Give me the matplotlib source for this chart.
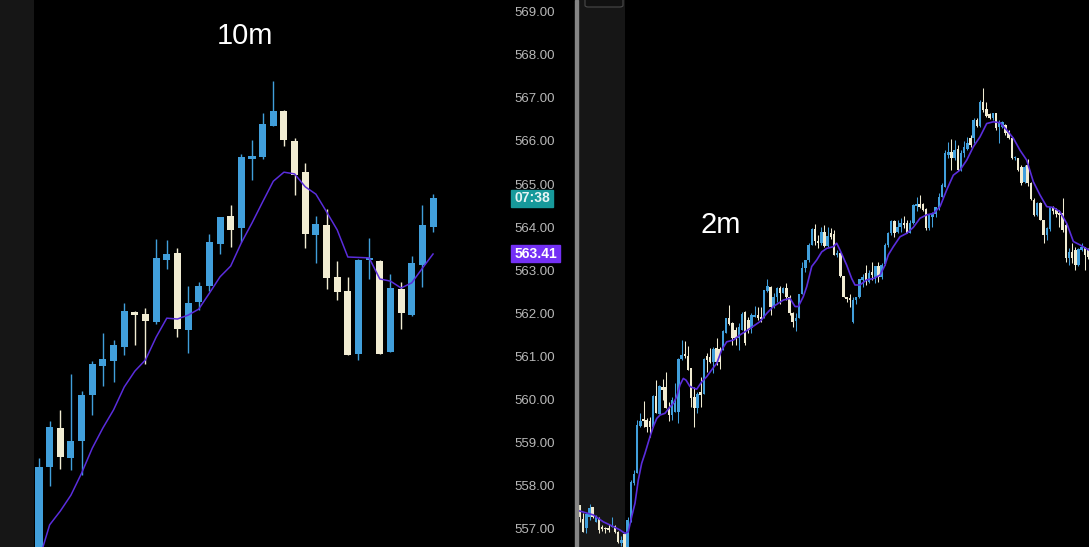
import matplotlib
matplotlib.use("Agg")
import matplotlib.pyplot as plt
from matplotlib.patches import Rectangle, FancyBboxPatch
from matplotlib.transforms import blended_transform_factory

plt.rcParams['font.family'] = ['Liberation Sans', 'DejaVu Sans']

# --- 10m panel (left) : open / high / low / close ---
o10 = [556.45, 558.46, 559.37, 558.67, 559.07, 560.14, 560.81, 560.92, 561.25, 562.06,
       562.02, 561.83, 563.27, 563.43, 561.64, 562.30, 562.67, 563.64, 564.29, 564.01,
       565.62, 565.66, 566.38, 566.73, 566.03, 565.31, 563.85, 564.08, 562.88, 562.55,
       561.09, 563.27, 563.25, 561.13, 562.59, 561.99, 563.15, 564.04]
h10 = [558.67, 559.53, 559.79, 560.62, 560.23, 560.92, 561.58, 561.41, 562.27, 562.09,
       562.16, 563.76, 563.73, 563.55, 562.67, 562.76, 563.87, 564.27, 564.55, 565.73,
       566.06, 566.68, 567.43, 566.75, 566.10, 565.52, 564.29, 564.45, 563.25, 562.88,
       563.29, 563.78, 563.27, 562.95, 562.76, 563.36, 564.55, 564.80]
l10 = [556.30, 558.02, 558.42, 558.39, 558.28, 559.67, 560.34, 560.44, 561.06, 561.30,
       560.86, 561.78, 563.06, 561.48, 561.11, 562.11, 562.55, 563.41, 563.57, 563.69,
       565.13, 565.62, 566.38, 565.92, 564.78, 563.55, 563.20, 562.60, 562.34, 561.06,
       560.95, 562.83, 561.09, 561.13, 561.67, 561.97, 562.64, 563.92]
c10 = [558.46, 559.39, 558.70, 559.07, 560.14, 560.86, 560.97, 561.30, 562.09, 561.99,
       561.85, 563.32, 563.41, 561.67, 562.27, 562.67, 563.69, 564.27, 563.97, 565.66,
       565.69, 566.43, 566.73, 566.05, 565.24, 563.87, 564.11, 562.85, 562.53, 561.06,
       563.27, 563.31, 561.09, 562.62, 562.04, 563.20, 564.08, 564.71]
ma10 = [556.30, 557.12, 557.44, 557.81, 558.32, 558.90, 559.37, 559.79, 560.32, 560.69,
        560.95, 561.48, 561.92, 561.90, 561.99, 562.13, 562.50, 562.88, 563.13, 563.67,
        564.13, 564.62, 565.10, 565.31, 565.27, 564.97, 564.80, 564.39, 563.97, 563.34,
        563.33, 563.32, 562.83, 562.78, 562.62, 562.74, 563.08, 563.41]

# --- 2m panel (right) ---
o2 = [557.58, 557.25, 557.04, 557.31, 557.53, 557.19, 557.27, 557.06, 557.04, 557.04,
      557.08, 557.09, 556.96, 556.69, 556.90, 556.57, 557.19, 558.08, 558.32, 559.42,
      559.57, 559.55, 559.52, 559.40, 560.11, 559.69, 560.33, 560.33, 559.83, 559.67,
      559.75, 559.75, 560.96, 561.08, 561.04, 560.77, 560.08, 559.83, 560.21, 560.17,
      561.03, 561.01, 560.89, 561.22, 561.20, 561.18, 561.58, 561.92, 561.81, 561.64,
      561.47, 561.64, 562.07, 561.88, 561.68, 561.95, 561.99, 561.95, 561.92, 562.56,
      562.64, 562.19, 562.42, 562.61, 562.50, 562.61, 562.42, 562.03, 561.86, 561.92,
      562.47, 563.08, 563.27, 563.62, 563.99, 563.72, 563.66, 563.91, 563.60, 563.89,
      563.87, 563.39, 563.43, 562.90, 562.40, 562.38, 561.84, 562.33, 562.40, 562.81,
      562.96, 562.77, 563.00, 562.88, 563.12, 562.87, 563.18, 563.62, 563.89, 564.18,
      563.93, 564.04, 564.14, 564.12, 563.90, 564.12, 564.52, 564.57, 564.57, 564.45,
      564.01, 564.28, 564.35, 564.47, 564.74, 564.97, 565.71, 565.79, 565.63, 565.86,
      565.36, 565.75, 565.86, 566.10, 566.10, 566.52, 566.38, 566.95, 566.77, 566.65,
      566.56, 566.68, 566.35, 566.37, 566.41, 566.25, 566.10, 565.63, 565.63, 565.42,
      565.09, 565.48, 565.05, 564.66, 564.32, 564.60, 564.21, 563.85, 563.99, 564.49,
      564.43, 564.37, 564.37, 564.08, 563.31, 563.46, 563.50, 563.15, 563.50, 563.58,
      563.50]
h2 = [557.58, 557.39, 557.39, 557.60, 557.54, 557.35, 557.31, 557.12, 557.08, 557.15,
      557.31, 557.12, 556.98, 556.85, 556.92, 557.31, 558.16, 558.39, 559.55, 559.71,
      560.00, 559.59, 559.63, 560.14, 560.48, 560.37, 560.50, 560.68, 559.98, 560.10,
      560.42, 560.99, 561.41, 561.39, 561.28, 560.77, 560.33, 560.21, 560.56, 560.99,
      561.10, 561.22, 561.26, 561.47, 561.26, 561.64, 561.92, 562.23, 561.84, 561.72,
      561.81, 562.07, 562.09, 561.95, 562.03, 562.20, 562.19, 562.17, 562.57, 562.83,
      562.67, 562.50, 562.64, 562.67, 562.64, 562.73, 562.46, 562.07, 562.03, 562.47,
      563.23, 563.27, 563.66, 564.01, 564.11, 563.85, 564.04, 564.08, 564.04, 564.01,
      563.97, 563.50, 563.46, 562.90, 562.42, 562.48, 562.42, 562.42, 562.84, 562.95,
      563.15, 563.04, 563.23, 563.12, 563.23, 563.19, 563.66, 563.93, 564.21, 564.21,
      564.20, 564.24, 564.29, 564.20, 564.20, 564.57, 564.74, 564.78, 564.59, 564.47,
      564.35, 564.39, 564.51, 564.82, 565.05, 565.82, 566.02, 566.07, 566.06, 565.94,
      565.82, 566.04, 566.13, 566.17, 566.56, 566.56, 566.99, 567.26, 566.95, 566.68,
      566.69, 566.68, 566.52, 566.51, 566.44, 566.29, 566.13, 565.69, 565.65, 565.48,
      565.48, 565.61, 565.09, 564.70, 564.62, 564.62, 564.21, 564.04, 564.51, 564.52,
      564.47, 564.43, 564.70, 564.12, 563.54, 563.66, 563.58, 563.54, 563.66, 563.58,
      563.55]
l2 = [557.19, 556.96, 556.94, 557.23, 557.29, 557.19, 556.92, 556.98, 556.92, 556.96,
      557.08, 556.92, 556.69, 556.62, 556.61, 556.55, 557.19, 558.05, 558.32, 559.40,
      559.40, 559.28, 559.17, 559.40, 559.71, 559.69, 560.02, 559.83, 559.54, 559.55,
      559.75, 559.49, 560.95, 560.99, 560.72, 559.86, 559.40, 559.71, 559.86, 560.16,
      560.68, 560.87, 560.64, 560.83, 560.75, 561.18, 561.57, 561.76, 561.30, 561.30,
      561.18, 561.64, 561.30, 561.57, 561.57, 561.95, 561.88, 561.84, 561.92, 562.53,
      561.99, 562.15, 562.30, 562.26, 562.50, 562.34, 561.99, 561.72, 561.63, 561.92,
      562.47, 563.00, 563.23, 563.62, 563.62, 563.54, 563.62, 563.58, 563.58, 563.75,
      563.39, 563.35, 562.88, 562.40, 562.30, 562.17, 561.81, 562.26, 562.38, 562.65,
      562.69, 562.74, 562.81, 562.73, 562.77, 562.84, 563.15, 563.58, 563.85, 563.81,
      563.89, 563.93, 564.01, 563.89, 563.89, 564.11, 564.40, 564.47, 564.42, 563.97,
      563.97, 564.04, 564.28, 564.43, 564.74, 564.97, 565.63, 565.36, 565.59, 565.34,
      565.34, 565.67, 565.82, 565.90, 565.98, 566.37, 566.37, 566.71, 566.60, 566.54,
      566.52, 566.29, 565.98, 566.33, 566.17, 566.07, 565.61, 565.59, 565.34, 565.01,
      565.05, 564.99, 564.66, 564.29, 564.29, 564.20, 563.66, 563.73, 563.95, 564.35,
      564.28, 564.04, 563.93, 563.23, 563.15, 563.19, 563.04, 563.12, 563.49, 563.04,
      563.30]
c2 = [557.31, 556.96, 557.36, 557.52, 557.31, 557.31, 557.00, 557.02, 557.02, 557.00,
      557.12, 556.96, 556.71, 556.77, 556.61, 557.23, 558.12, 558.30, 559.44, 559.53,
      559.52, 559.40, 559.40, 560.11, 559.71, 560.34, 560.25, 559.83, 559.67, 560.02,
      559.96, 560.97, 561.06, 561.03, 560.72, 560.06, 559.83, 560.17, 560.14, 560.97,
      560.95, 560.89, 561.20, 560.91, 560.91, 561.61, 561.92, 561.78, 561.47, 561.47,
      561.72, 562.02, 561.34, 561.64, 561.99, 561.99, 561.92, 561.89, 562.57, 562.67,
      562.19, 562.42, 562.61, 562.50, 562.61, 562.42, 562.03, 561.84, 561.92, 562.47,
      563.08, 563.27, 563.62, 563.99, 563.72, 563.67, 563.91, 563.60, 563.83, 563.80,
      563.39, 563.44, 562.90, 562.40, 562.36, 562.33, 562.34, 562.42, 562.82, 562.88,
      562.81, 562.98, 562.92, 563.12, 562.88, 563.15, 563.62, 563.90, 564.18, 563.89,
      564.04, 564.12, 564.08, 563.90, 564.12, 564.55, 564.57, 564.51, 564.43, 564.01,
      564.32, 564.35, 564.49, 564.74, 565.01, 565.75, 565.79, 565.63, 565.82, 565.36,
      565.75, 565.90, 565.98, 565.94, 566.52, 566.38, 566.95, 566.75, 566.61, 566.56,
      566.68, 566.33, 566.48, 566.48, 566.21, 566.10, 565.63, 565.67, 565.36, 565.07,
      565.42, 565.05, 564.68, 564.32, 564.60, 564.21, 563.85, 564.01, 564.49, 564.42,
      564.35, 564.32, 563.97, 563.31, 563.46, 563.31, 563.15, 563.52, 563.58, 563.39,
      563.35]
# moving average read at bar positions
ma2_x = [-0.54, 4.19, 7.34, 10.49, 12.60, 14.17, 15.21, 16.28, 17.32, 18.36, 19.43, 20.47,
         22.05, 23.09, 24.16, 25.20, 26.77, 28.35, 29.39, 30.46, 31.50, 32.54, 33.39, 34.65,
         36.76, 38.33, 39.91, 41.48, 43.06, 44.63, 46.20, 48.28, 50.39, 53.54, 56.69, 58.80,
         60.88, 64.03, 66.14, 67.72, 68.76, 70.33, 71.40, 72.98, 74.55, 76.13, 77.70, 79.78,
         80.85, 81.89, 84.00, 85.57, 86.61, 88.19, 90.30, 92.38, 94.49, 96.06, 97.10, 98.68,
         100.79, 102.90, 104.98, 107.09, 109.20, 111.28, 113.39, 115.50, 117.57, 119.69,
         121.80, 123.87, 125.98, 128.09, 130.17, 132.28, 134.39, 136.47, 138.58, 140.69,
         142.77, 144.88, 146.99, 149.07, 151.18, 153.31, 155.39, 157.48, 160.31]
ma2 = [557.45, 557.35, 557.19, 557.08, 557.00, 556.92, 556.96, 557.31, 557.62, 558.16,
       558.55, 558.78, 559.17, 559.40, 559.59, 559.67, 559.71, 559.86, 559.94, 560.10,
       560.37, 560.52, 560.48, 560.33, 560.27, 560.44, 560.56, 560.72, 560.87, 561.18,
       561.37, 561.41, 561.53, 561.68, 561.84, 562.03, 562.19, 562.34, 562.38, 562.19,
       562.19, 562.42, 562.65, 563.12, 563.27, 563.46, 563.54, 563.58, 563.66, 563.50,
       563.15, 562.84, 562.69, 562.69, 562.81, 562.84, 562.92, 563.15, 563.39, 563.58,
       563.81, 563.89, 564.03, 564.24, 564.32, 564.35, 564.51, 564.90, 565.24, 565.36,
       565.59, 565.90, 566.13, 566.44, 566.48, 566.46, 566.29, 566.10, 565.82, 565.59,
       565.09, 564.78, 564.51, 564.49, 564.39, 564.12, 563.70, 563.62, 563.50]

price_ticks = list(range(557, 570))
countdown = "07:38"

UP = '#419fdb'
DOWN = '#f1ecd2'
MA_COL = '#5a2ddc'
BG = '#000000'
SESSION = '#161616'
YLIM = (556.605, 569.309)


def draw_candles(ax, o, h, l, c, width, wick_lw):
    xs = list(range(len(o)))
    cols = [UP if cc >= oo else DOWN for oo, cc in zip(o, c)]
    bottoms = [min(oo, cc) for oo, cc in zip(o, c)]
    heights = [max(abs(cc - oo), 0.03) for oo, cc in zip(o, c)]
    ax.vlines(xs, l, h, colors=cols, linewidth=wick_lw, zorder=3)
    ax.bar(xs, heights, bottom=bottoms, width=width, color=cols, linewidth=0, zorder=4)


fig = plt.figure(figsize=(10.89, 5.47), dpi=100)
fig.patch.set_facecolor(BG)

# left panel: 0..575 px
ax1 = fig.add_axes([0, 0, 575 / 1089, 1])
ax1.set_facecolor(BG)
ax1.set_xlim(-3.662, 50.33)
ax1.set_ylim(*YLIM)
ax1.axvspan(-3.662, -0.47, color=SESSION, zorder=0, lw=0)
draw_candles(ax1, o10, h10, l10, c10, 0.66, 1.0)
ax1.plot(range(len(ma10)), ma10, color=MA_COL, lw=1.1, zorder=5)
ax1.set_xticks([])
ax1.set_yticks([])
for s in ax1.spines.values():
    s.set_visible(False)

tr = blended_transform_factory(ax1.transAxes, ax1.transData)
for p in price_ticks:
    ax1.text(555 / 575, p, f"{p:.2f}", transform=tr, ha='right', va='center',
             color='#b8b8b8', fontsize=9.5)

# price / countdown labels
box_h = 17 / 43.06
ax1.add_patch(Rectangle((511 / 575, c10[-1] - box_h / 2), 42 / 575, box_h,
                        transform=tr, color='#17999b', zorder=6))
ax1.text(532 / 575, c10[-1], countdown, transform=tr, ha='center', va='center',
         color='#e6f4f4', fontsize=10, fontweight='bold', zorder=7)
ax1.add_patch(Rectangle((511 / 575, ma10[-1] - box_h / 2), 49 / 575, box_h,
                        transform=tr, color='#7430f5', zorder=6))
ax1.text(535.5 / 575, ma10[-1], f"{ma10[-1]:.2f}", transform=tr, ha='center', va='center',
         color='white', fontsize=10, fontweight='bold', zorder=7)

# right panel: 578..1089 px
ax2 = fig.add_axes([578 / 1089, 0, 511 / 1089, 1])
ax2.set_facecolor(BG)
ax2.set_xlim(-0.63, 160.31)
ax2.set_ylim(*YLIM)
ax2.axvspan(-0.63, 14.33, color=SESSION, zorder=0, lw=0)
draw_candles(ax2, o2, h2, l2, c2, 0.78, 0.75)
ax2.plot(ma2_x, ma2, color=MA_COL, lw=1.2, zorder=5)
ax2.set_xticks([])
ax2.set_yticks([])
for s in ax2.spines.values():
    s.set_visible(False)

# divider between the two charts
fig.add_artist(Rectangle((575 / 1089, 0), 3 / 1089, 1, transform=fig.transFigure,
                         color='#858585', zorder=10))
# small toolbar button cut by the top edge
fig.add_artist(FancyBboxPatch((585 / 1089, 1 - 7 / 547), 38 / 1089, 14 / 547,
                              boxstyle="round,pad=0,rounding_size=0.003",
                              transform=fig.transFigure, fc='#111111', ec='#4a4a4a',
                              lw=0.8, zorder=10))

fig.text(244.5 / 1089, 1 - 36 / 547, "10m", color='white', fontsize=21,
         ha='center', va='center')
fig.text(721 / 1089, 1 - 225 / 547, "2m", color='white', fontsize=21,
         ha='center', va='center')

fig.savefig("out.png", dpi=100, facecolor=BG)
